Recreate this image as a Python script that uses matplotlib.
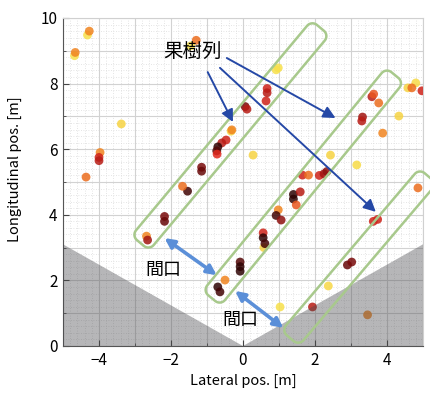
import numpy as np
import matplotlib
import matplotlib.pyplot as plt
from matplotlib.colors import LinearSegmentedColormap
from matplotlib.patches import Polygon
from matplotlib.ticker import MultipleLocator

matplotlib.use("Agg")

plt.rcParams["font.family"] = ["Noto Sans CJK JP", "DejaVu Sans"]

# detected fruit-tree positions [m] and their colour level (0 = yellow ... 1 = black)
pt_x = [-4.32, -4.27, -4.68, -4.66, -3.38, -3.97, -4.00, -4.00, -4.36,
        -1.45, -1.30, -0.33, -0.31, -0.47, -0.59, -0.70, -0.73, -0.72,
        -1.15, -1.15, -1.54, -1.68, -2.18, -2.18, -2.68, -2.65,
        0.92, 0.98, 0.67, 0.67, 0.64, 0.06, 0.11, 0.28, 2.43, 3.16,
        3.58, 3.63, 3.32, 3.30, 3.77, 3.88, 4.33, 4.58, 4.80, 4.69, 4.97,
        1.65, 1.82, 2.12, 2.25, 2.33, 1.40, 1.40, 1.59, 1.48,
        0.98, 0.92, 1.06, 0.58, 0.56, 0.56, 0.61,
        -0.08, -0.08, -0.08, -0.50, -0.70, -0.64, 2.90, 3.02, 2.37,
        1.93, 3.74, 3.62, 4.86, 3.46, 1.03]
pt_y = [9.48, 9.60, 8.85, 8.95, 6.77, 5.90, 5.75, 5.65, 5.15,
        9.15, 9.32, 6.55, 6.59, 6.28, 6.19, 6.07, 5.95, 5.85,
        5.45, 5.33, 4.72, 4.87, 3.95, 3.80, 3.35, 3.23,
        8.42, 8.48, 7.85, 7.72, 7.47, 7.30, 7.22, 5.82, 5.82, 5.52,
        7.60, 7.68, 6.98, 6.86, 7.41, 6.49, 7.01, 7.87, 8.02, 7.87, 7.78,
        5.21, 5.21, 5.20, 5.25, 5.32, 4.62, 4.48, 4.70, 4.30,
        4.15, 3.98, 3.84, 3.00, 3.45, 3.30, 3.12,
        2.56, 2.42, 2.28, 2.01, 1.80, 1.65, 2.47, 2.56, 1.83,
        1.19, 3.86, 3.80, 4.82, 0.95, 1.19]
pt_level = [0.0, 0.3, 0.0, 0.3, 0.05, 0.3, 0.55, 0.6, 0.35,
            0.0, 0.35, 0.05, 0.3, 0.55, 0.6, 0.95, 0.85, 0.5,
            0.75, 0.8, 0.9, 0.35, 0.75, 0.8, 0.3, 0.65,
            0.0, 0.0, 0.55, 0.6, 0.55, 0.75, 0.6, 0.05, 0.05, 0.02,
            0.6, 0.4, 0.65, 0.6, 0.35, 0.3, 0.05, 0.05, 0.02, 0.35, 0.55,
            0.55, 0.35, 0.55, 0.65, 0.7, 0.95, 0.95, 0.6, 0.4,
            0.3, 0.9, 0.7, 0.05, 0.55, 0.95, 0.9,
            0.85, 0.95, 0.95, 0.3, 0.95, 0.9, 0.8, 0.75, 0.03,
            0.6, 0.55, 0.55, 0.35, 0.3, 0.0]

# tree rows: centre of the two end caps [m]
row_start = [(-2.85, 3.14), (-0.87, 1.46), (1.31, 0.24)]
row_end = [(2.15, 9.70), (4.22, 8.26), (5.14, 5.18)]
row_width_px = 23
row_radius_px = 7

# blind area of the sensor (V-shaped region)
blind_x = [-5, 0, 5, 5, -5]
blind_y = [3.1, 0, 3.1, 0, 0]

# annotation arrows: label "果樹列" -> rows
row_label_xy = (-1.40, 8.97)
row_arrow_from = [(-0.98, 8.35), (-0.45, 8.78), (-0.64, 8.48)]
row_arrow_to = [(-0.28, 6.83), (2.57, 6.95), (3.69, 4.09)]

# row opening ("間口") double arrows
gap_label_xy = [(-2.2, 2.33), (-0.08, 0.80)]
gap_from = [(-2.18, 3.29), (-0.22, 1.68)]
gap_to = [(-0.73, 2.16), (1.12, 0.55)]

W, H, DPI = 431, 394, 100
fig = plt.figure(figsize=(W / DPI, H / DPI), dpi=DPI)
ax_l, ax_r, ax_b, ax_t = 63 / W, 423 / W, 1 - 346 / H, 1 - 18 / H
ax = fig.add_axes([ax_l, ax_b, ax_r - ax_l, ax_t - ax_b])
ax.set_xlim(-5, 5)
ax.set_ylim(0, 10)

# pixels per metre, used to build rounded bands in screen-like space
sx = (ax_r - ax_l) * W / 10
sy = (ax_t - ax_b) * H / 10

# grid
ax.xaxis.set_major_locator(MultipleLocator(2))
ax.yaxis.set_major_locator(MultipleLocator(2))
ax.xaxis.set_minor_locator(MultipleLocator(1))
ax.yaxis.set_minor_locator(MultipleLocator(1))
for v in np.arange(-5, 5.01, 0.2):
    ax.axvline(v, color="#dcdcdc", lw=0.6, ls=(0, (1, 2)), zorder=1)
for v in np.arange(0, 10.01, 0.2):
    ax.axhline(v, color="#dcdcdc", lw=0.6, ls=(0, (1, 2)), zorder=1)
for v in range(-5, 6):
    ax.axvline(v, color="#d2d2d2", lw=0.8, zorder=1.2)
for v in range(0, 11):
    ax.axhline(v, color="#d2d2d2", lw=0.8, zorder=1.2)

cmap = LinearSegmentedColormap.from_list(
    "fruit", ["#f7e04a", "#f39a1f", "#e2281d", "#7a0a0a", "#1e0202"])
ax.scatter(pt_x, pt_y, c=pt_level, cmap=cmap, vmin=0, vmax=1,
           s=40, alpha=0.85, edgecolors="none", zorder=3)

ax.add_patch(Polygon(np.column_stack([blind_x, blind_y]), closed=True,
                     facecolor="#4a4a4e", edgecolor="none", alpha=0.4, zorder=4))


def rounded_band(p0, p1, width, radius):
    a = np.array([p0[0] * sx, p0[1] * sy])
    b = np.array([p1[0] * sx, p1[1] * sy])
    L = np.linalg.norm(b - a)
    u = (b - a) / L
    n = np.array([-u[1], u[0]])
    h = width / 2
    pts = []
    corners = [((L - radius, -h + radius), -90, 0), ((L - radius, h - radius), 0, 90),
               ((radius, h - radius), 90, 180), ((radius, -h + radius), 180, 270)]
    for (cs, ct), a0, a1 in corners:
        for t in np.radians(np.linspace(a0, a1, 12)):
            s_ = cs + radius * np.cos(t)
            t_ = ct + radius * np.sin(t)
            p = a + s_ * u + t_ * n
            pts.append((p[0] / sx, p[1] / sy))
    return np.array(pts)


for p0, p1 in zip(row_start, row_end):
    ax.add_patch(Polygon(rounded_band(p0, p1, row_width_px, row_radius_px),
                         closed=True, fill=False, edgecolor="#a8c98c", lw=1.8,
                         zorder=5, clip_on=False))

for p0, p1 in zip(row_arrow_from, row_arrow_to):
    ax.annotate("", xy=p1, xytext=p0,
                arrowprops=dict(arrowstyle="-|>", color="#2548a6", lw=1.4,
                                mutation_scale=18, shrinkA=0, shrinkB=0),
                zorder=6)
ax.text(*row_label_xy, "果樹列", fontsize=14, ha="center", va="center", zorder=7)

for p0, p1 in zip(gap_from, gap_to):
    ax.annotate("", xy=p1, xytext=p0,
                arrowprops=dict(arrowstyle="<|-|>", color="#5b8fd8", lw=2.6,
                                mutation_scale=14, shrinkA=0, shrinkB=0),
                zorder=6)
for xy in gap_label_xy:
    ax.text(*xy, "間口", fontsize=13, ha="center", va="center", zorder=7)

ax.tick_params(which="both", direction="in", colors="#444444", labelsize=11,
               labelcolor="black", top=False, right=False)
ax.tick_params(which="major", length=4, pad=4)
ax.tick_params(which="minor", length=2.5)
for side in ("left", "bottom"):
    ax.spines[side].set_color("#555555")
for side in ("top", "right"):
    ax.spines[side].set_color("#d0d0d0")
ax.set_xticklabels([f"{v:g}".replace("-", "\u2212") for v in ax.get_xticks()])

ax.set_xlabel("Lateral pos. [m]", fontsize=10.5)
ax.set_ylabel("Longitudinal pos. [m]", fontsize=10.5)
ax.yaxis.set_label_coords(-0.115, 0.54)

fig.savefig("out.png", dpi=DPI)
